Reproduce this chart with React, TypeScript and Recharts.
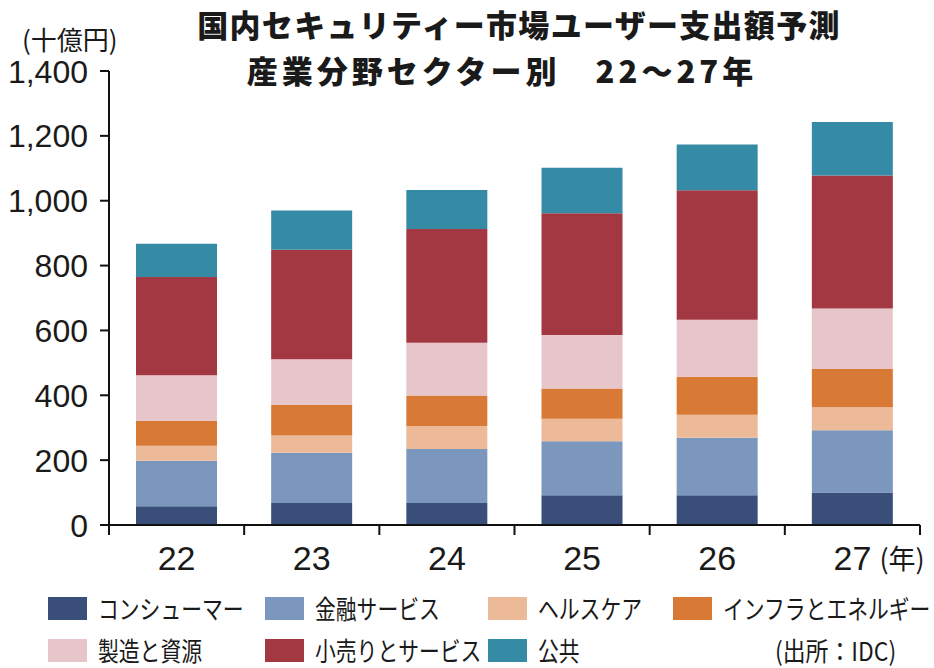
import React from 'react';
import { BarChart, Bar, XAxis, YAxis } from 'recharts';

// 国内セキュリティー市場 ユーザー支出額予測（十億円）
const years = ['22', '23', '24', '25', '26', '27'];
const consumer = [58, 68, 68, 92, 92, 100];
const finance = [140, 155, 166, 166, 177, 192];
const healthcare = [46, 53, 71, 70, 71, 71];
const infra = [77, 94, 94, 93, 117, 118];
const manufacturing = [141, 141, 163, 165, 176, 187];
const retail = [303, 338, 351, 375, 399, 410];
const publicSector = [102, 121, 120, 141, 141, 165];
const yTicks = [0, 200, 400, 600, 800, 1000, 1200, 1400];

const series = [
  { key: 'consumer', name: 'コンシューマー', color: '#394f7a', values: consumer },
  { key: 'finance', name: '金融サービス', color: '#7b97bd', values: finance },
  { key: 'healthcare', name: 'ヘルスケア', color: '#ecb999', values: healthcare },
  { key: 'infra', name: 'インフラとエネルギー', color: '#d97936', values: infra },
  { key: 'manufacturing', name: '製造と資源', color: '#e6c6cb', values: manufacturing },
  { key: 'retail', name: '小売りとサービス', color: '#a33742', values: retail },
  { key: 'publicSector', name: '公共', color: '#358aa5', values: publicSector },
];

const data = years.map((year, i) => {
  const row: Record<string, string | number> = { year };
  series.forEach((s) => {
    row[s.key] = s.values[i];
  });
  return row;
});

const jp = '"Noto Sans CJK JP", "Noto Sans", sans-serif';
const num = '"Liberation Sans", Arial, sans-serif';
const ink = '#1a1a1a';

const YTick = ({ x, y, payload }: any) => (
  <text x={x} y={y} dy="0.36em" textAnchor="end" fontSize={32} fontFamily={num} fill={ink}>
    {Number(payload.value).toLocaleString('en-US')}
  </text>
);

const XTick = ({ x, y, payload, index }: any) => {
  const half = payload.offset || 67.5;
  const top = y - 10;
  const last = index === years.length - 1;
  return (
    <g>
      <line x1={x - half} x2={x - half} y1={top} y2={top + 10} stroke="#111" strokeWidth={2} />
      {last && <line x1={x + half} x2={x + half} y1={top} y2={top + 10} stroke="#111" strokeWidth={2} />}
      <text x={x} y={top + 45} textAnchor="middle" fontSize={34} fontFamily={num} fill={ink}>
        {payload.value}
      </text>
      {last && (
        <text x={x + 27} y={top + 44} textAnchor="start" fontSize={27} fontFamily={jp} fill={ink}>
          (年)
        </text>
      )}
    </g>
  );
};

const legendCols = [48, 265, 488, 673];
const legendRows = [608, 650];

const titleStyle: React.CSSProperties = {
  position: 'absolute',
  width: 800,
  textAlign: 'center',
  fontSize: 31,
  fontWeight: 900,
  lineHeight: '40px',
  whiteSpace: 'nowrap',
};

export default function App() {
  return (
    <div
      style={{
        position: 'absolute',
        left: 0,
        top: 0,
        width: 934,
        height: 668,
        background: '#fff',
        overflow: 'hidden',
        fontFamily: jp,
        color: ink,
      }}
    >
      <BarChart
        width={934}
        height={668}
        data={data}
        margin={{ top: 71, right: 14, left: 0, bottom: 0 }}
        barCategoryGap={27}
      >
        <XAxis
          dataKey="year"
          height={143}
          axisLine={{ stroke: '#111', strokeWidth: 2 }}
          tickLine={false}
          tickSize={10}
          tickMargin={0}
          tick={<XTick />}
          interval={0}
        />
        <YAxis
          width={109}
          domain={[0, 1400]}
          ticks={yTicks}
          interval={0}
          axisLine={{ stroke: '#111', strokeWidth: 2 }}
          tickLine={{ stroke: '#111', strokeWidth: 2 }}
          tickSize={9}
          tickMargin={12}
          tick={<YTick />}
        />
        {series.map((s) => (
          <Bar key={s.key} dataKey={s.key} name={s.name} stackId="a" fill={s.color} isAnimationActive={false} />
        ))}
      </BarChart>

      <div style={{ ...titleStyle, left: 119, top: 4, letterSpacing: 1.3 }}>
        国内セキュリティー市場ユーザー支出額予測
      </div>
      <div style={{ ...titleStyle, left: 102, top: 50, letterSpacing: 4 }}>
        産業分野セクター別　22～27年
      </div>
      <div style={{ position: 'absolute', left: 22, top: 24, fontSize: 26, lineHeight: '30px' }}>(十億円)</div>

      {series.map((s, i) => {
        const left = legendCols[i % 4];
        const cy = legendRows[Math.floor(i / 4)];
        return (
          <div key={s.key} style={{ position: 'absolute', left, top: cy - 16, height: 32, display: 'flex', alignItems: 'center' }}>
            <div style={{ width: 39, height: 23, background: s.color }} />
            <div
              style={{
                marginLeft: 11,
                fontSize: 26,
                lineHeight: '32px',
                whiteSpace: 'nowrap',
                transform: 'scaleX(0.8)',
                transformOrigin: 'left center',
              }}
            >
              {s.name}
            </div>
          </div>
        );
      })}
      <div
        style={{
          position: 'absolute',
          left: 775,
          top: legendRows[1] - 16,
          fontSize: 26,
          lineHeight: '32px',
          whiteSpace: 'nowrap',
          transform: 'scaleX(0.88)',
          transformOrigin: 'left center',
        }}
      >
        (出所：IDC)
      </div>
    </div>
  );
}
